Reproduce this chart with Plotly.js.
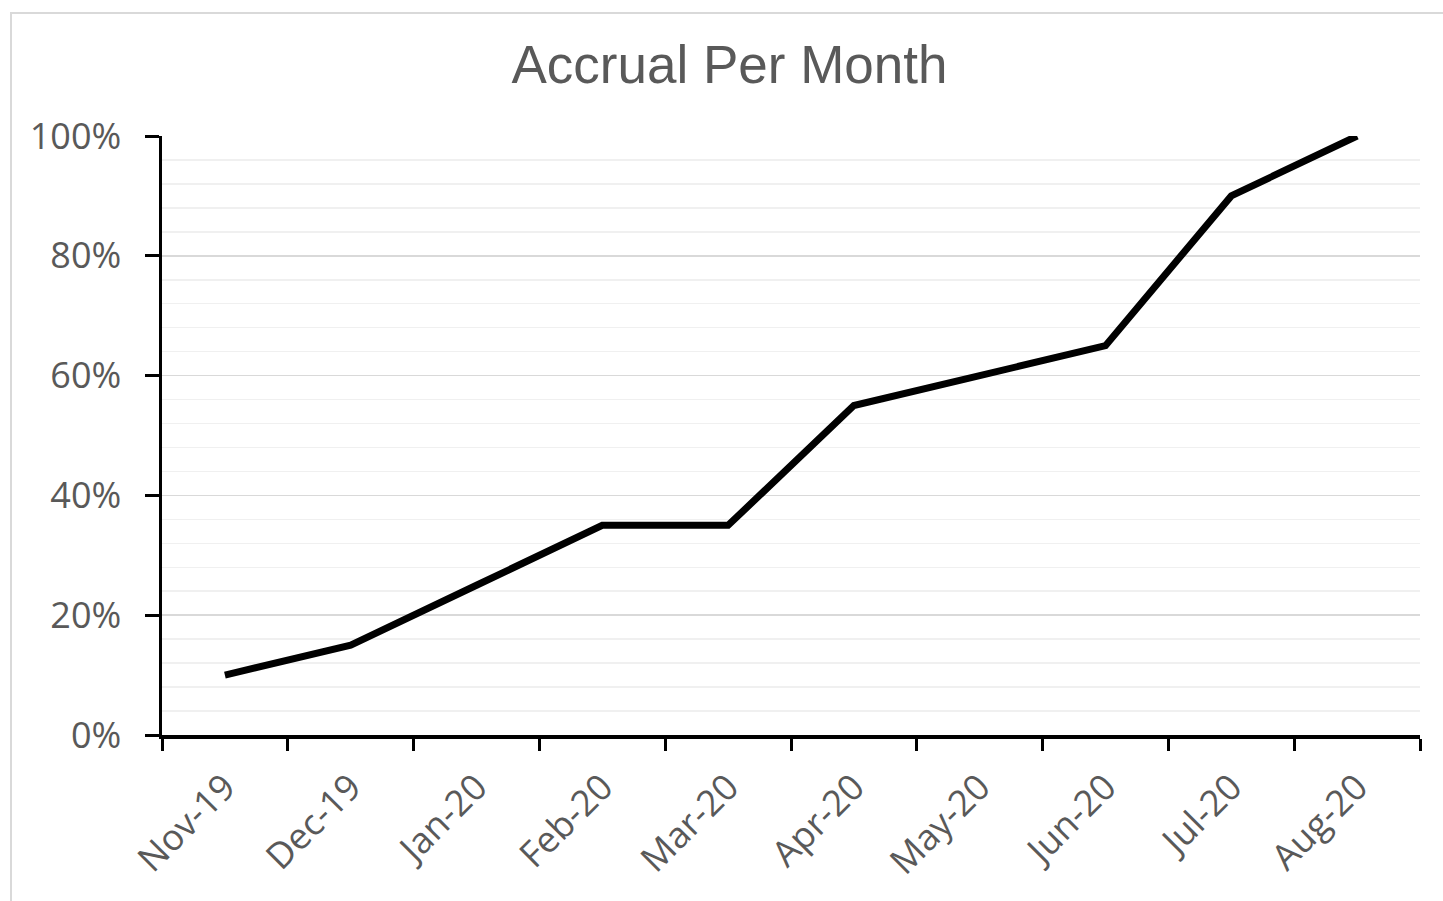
<!DOCTYPE html>
<html>
<head>
<meta charset="utf-8">
<script src="https://cdn.plot.ly/plotly-3.0.1.min.js"></script>
<style>
  html, body { margin: 0; padding: 0; background: #ffffff; }
  #frame { position: absolute; left: 10px; top: 12px; width: 1440px; height: 900px; border-left: 2px solid #d9d9d9; border-top: 2px solid #d9d9d9; pointer-events: none; }
  #chart { position: absolute; left: 0; top: 0; width: 1443px; height: 901px; }
</style>
</head>
<body>
<div id="frame"></div>
<div id="chart"></div>
<script>
const months = ["Nov-19", "Dec-19", "Jan-20", "Feb-20", "Mar-20", "Apr-20", "May-20", "Jun-20", "Jul-20", "Aug-20"];
const accrual = [0.10, 0.15, 0.25, 0.35, 0.35, 0.55, 0.60, 0.65, 0.90, 1.00];
const yTicks = [0, 0.2, 0.4, 0.6, 0.8, 1.0];
const yTickLabels = ["0%", "20%", "40%", "60%", "80%", "100%"];

const tickFont = { family: "Open Sans, sans-serif", size: 36, color: "#595959" };

const trace = {
  x: months,
  y: accrual,
  type: "scatter",
  mode: "lines",
  line: { color: "#000000", width: 7 },
  hoverinfo: "x+y"
};

const layout = {
  width: 1443,
  height: 901,
  paper_bgcolor: "rgba(0,0,0,0)",
  plot_bgcolor: "rgba(0,0,0,0)",
  margin: { l: 162, r: 23, t: 136, b: 166, autoexpand: false },
  showlegend: false,
  title: {
    text: "Accrual Per Month",
    font: { family: "Liberation Sans, Arial, sans-serif", size: 53, color: "#595959" },
    x: 729.5 / 1443,
    xref: "container",
    xanchor: "center",
    y: 1 - 64 / 901,
    yref: "container",
    yanchor: "middle"
  },
  xaxis: {
    type: "category",
    categoryorder: "array",
    categoryarray: months,
    range: [-0.5, 9.5],
    tickson: "boundaries",
    ticks: "outside",
    ticklen: 12,
    tickwidth: 3,
    tickcolor: "#000000",
    showline: true,
    linecolor: "#000000",
    linewidth: 3.5,
    showgrid: false,
    zeroline: false,
    tickangle: -45,
    tickfont: tickFont,
    ticklabelstandoff: 13,
    automargin: false,
    fixedrange: true
  },
  yaxis: {
    range: [0, 1],
    tickmode: "array",
    tickvals: yTicks,
    ticktext: yTickLabels,
    ticks: "outside",
    ticklen: 14,
    tickwidth: 3,
    tickcolor: "#000000",
    showline: true,
    linecolor: "#000000",
    linewidth: 3.5,
    showgrid: true,
    gridcolor: "#d9d9d9",
    gridwidth: 1.5,
    zeroline: false,
    minor: { dtick: 0.04, tick0: 0, showgrid: true, gridcolor: "#f0f0f0", gridwidth: 1.5, ticks: "" },
    tickfont: tickFont,
    ticklabelstandoff: 16,
    automargin: false,
    fixedrange: true
  }
};

Plotly.newPlot("chart", [trace], layout, { displayModeBar: false, staticPlot: true });
</script>
</body>
</html>
